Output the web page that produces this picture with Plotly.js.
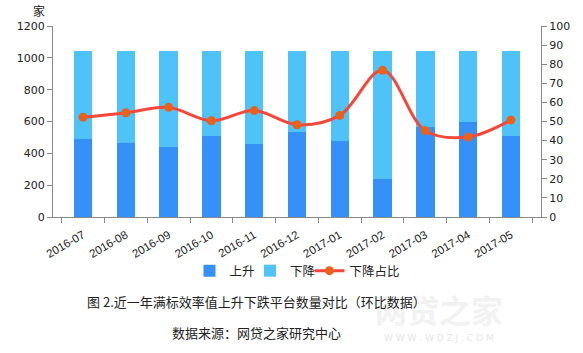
<!DOCTYPE html>
<html><head><meta charset="utf-8">
<script src="https://cdn.plot.ly/plotly-3.0.1.min.js"></script>
<style>html,body{margin:0;padding:0;background:#fff}#chart{width:583px;height:353px}</style>
</head><body><div id="chart"></div>
<script>
const months = ['2016-07','2016-08','2016-09','2016-10','2016-11','2016-12','2017-01','2017-02','2017-03','2017-04','2017-05'];
const upCounts = [490, 465, 440, 509, 459, 534, 477, 239, 565, 597, 509];
const downCounts = [553, 578, 603, 534, 584, 509, 566, 804, 478, 446, 534];
const downRatio = [52.2, 54.6, 57.4, 50.4, 55.7, 48.3, 53.2, 76.8, 45.2, 41.9, 50.8];

const numFont = {family: 'DejaVu Sans, Liberation Sans, sans-serif', size: 11, color: '#222'};
const xFont = {family: 'Liberation Sans, DejaVu Sans, sans-serif', size: 11.5, color: '#222'};
const cjk = 'Noto Sans CJK SC, sans-serif';

const traces = [
  {type:'bar', name:'上升', x: months, y: upCounts, marker:{color:'#3591f8'}, yaxis:'y', legend:'legend'},
  {type:'bar', name:'下降', x: months, y: downCounts, marker:{color:'#4fc2f8'}, yaxis:'y', legend:'legend2'},
  {type:'scatter', mode:'lines+markers', name:'下降占比', x: months, y: downRatio, yaxis:'y2', legend:'legend3',
   line:{color:'#f5473a', width:3, shape:'spline', smoothing:1},
   marker:{color:'#e8621c', size:9}}
];

const legendFont = {family:cjk, size:12.5, color:'#222'};
const legBase = {orientation:'h', xanchor:'left', y:-0.283, yanchor:'middle', font:legendFont, itemwidth:30,
                 bgcolor:'rgba(0,0,0,0)'};
const layout = {
  width:583, height:353,
  margin:{l:53, r:42, t:26, b:136, autoexpand:false},
  paper_bgcolor:'#fff', plot_bgcolor:'#fff',
  barmode:'stack', bargap:0.57,
  showlegend:true,
  legend:Object.assign({}, legBase, {x:0.2797}),
  legend2:Object.assign({}, legBase, {x:0.4037}),
  legend3:Object.assign({}, legBase, {x:0.5256}),
  xaxis:{type:'category', tickangle:-30, tickfont:xFont, showline:true, linecolor:'#888', linewidth:1,
         ticks:'outside', tickson:'boundaries', ticklen:5, tickcolor:'#888', showgrid:false, zeroline:false,
         automargin:false, ticklabelstandoff:6},
  yaxis:{range:[0,1200], dtick:200, tickfont:numFont, showline:true, linecolor:'#888', linewidth:1,
         ticks:'outside', ticklen:5, tickcolor:'#888', showgrid:false, zeroline:false, automargin:false},
  yaxis2:{range:[0,100], dtick:10, overlaying:'y', side:'right', tickfont:numFont, showline:true,
          linecolor:'#888', linewidth:1, ticks:'outside', ticklen:5, tickcolor:'#888', showgrid:false, zeroline:false, automargin:false},
  annotations:[
    {text:'家', xref:'paper', yref:'paper', x:-0.045, y:1.0, yanchor:'bottom', yshift:5, showarrow:false,
     font:{family:cjk, size:12, color:'#222'}},
    {text:'<b>网贷之家</b>', xref:'paper', yref:'paper', x:0.79, xanchor:'center', y:-0.482, yanchor:'middle', showarrow:false,
     font:{family:cjk, size:32, color:'#f2f2f2'}},
    {text:'W W W . W D Z J . C O M', xref:'paper', yref:'paper', x:0.79, xanchor:'center', y:-0.634, yanchor:'middle', showarrow:false,
     font:{family:'DejaVu Sans, sans-serif', size:9, color:'#e6e6e6'}},
    {text:'图 2.近一年满标效率值上升下跌平台数量对比（环比数据）', xref:'paper', yref:'paper', x:0.416, xanchor:'center', y:-0.445, yanchor:'middle',
     showarrow:false, font:{family:cjk, size:13, color:'#222'}},
    {text:'数据来源：网贷之家研究中心', xref:'paper', yref:'paper', x:0.416, xanchor:'center', y:-0.607, yanchor:'middle',
     showarrow:false, font:{family:cjk, size:13, color:'#222'}}
  ]
};
Plotly.newPlot('chart', traces, layout, {displayModeBar:false, staticPlot:true});
</script></body></html>
